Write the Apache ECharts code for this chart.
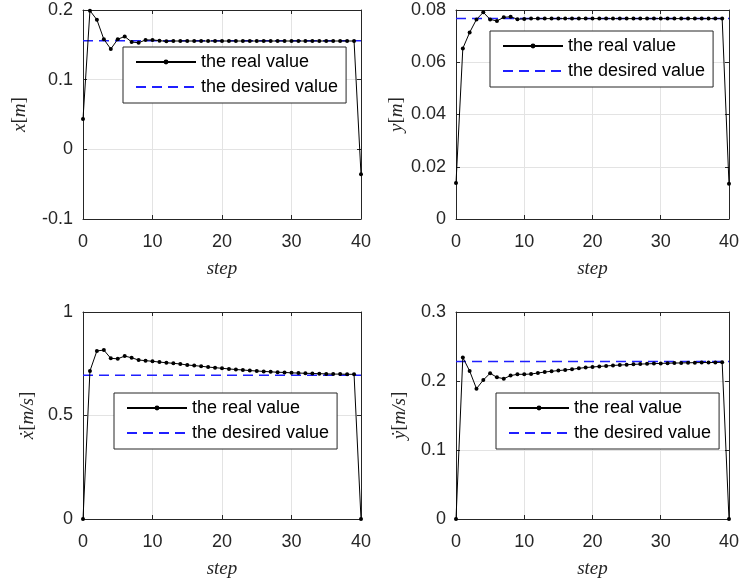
<!DOCTYPE html>
<html><head><meta charset="utf-8">
<script src="https://cdn.jsdelivr.net/npm/echarts@6/dist/echarts.min.js"></script>
<style>html,body{margin:0;padding:0;background:#fff}#c{width:742px;height:584px}</style>
</head><body><div id="c"></div><script>
const steps = [0,1,2,3,4,5,6,7,8,9,10,11,12,13,14,15,16,17,18,19,20,21,22,23,24,25,26,27,28,29,30,31,32,33,34,35,36,37,38,39,40];
const xReal = [0.0437,0.199,0.186,0.158,0.144,0.158,0.162,0.154,0.153,0.157,0.157,0.156,0.155,0.1555,0.1555,0.1555,0.1555,0.1555,0.1555,0.1555,0.1555,0.1555,0.1555,0.1555,0.1555,0.1555,0.1555,0.1555,0.1555,0.1555,0.1555,0.1555,0.1555,0.1555,0.1555,0.1555,0.1555,0.1555,0.1555,0.1555,-0.0357];
const xDesired = 0.1557;
const yReal = [0.0138,0.0653,0.0714,0.0764,0.0791,0.0764,0.0758,0.0772,0.0774,0.0765,0.0766,0.0767,0.0767,0.0767,0.0767,0.0767,0.0767,0.0767,0.0767,0.0767,0.0767,0.0767,0.0767,0.0767,0.0767,0.0767,0.0767,0.0767,0.0767,0.0767,0.0767,0.0767,0.0767,0.0767,0.0767,0.0767,0.0767,0.0767,0.0767,0.0767,0.0135];
const yDesired = 0.0767;
const xdReal = [0,0.715,0.812,0.816,0.776,0.774,0.787,0.779,0.768,0.765,0.762,0.758,0.755,0.752,0.749,0.744,0.741,0.738,0.734,0.731,0.728,0.725,0.722,0.720,0.717,0.715,0.713,0.711,0.709,0.708,0.706,0.705,0.704,0.703,0.702,0.701,0.700,0.700,0.699,0.699,0];
const xdDesired = 0.694;
const ydReal = [0,0.234,0.2145,0.1889,0.2014,0.2112,0.2053,0.2034,0.2078,0.2097,0.2097,0.2101,0.2116,0.2130,0.2141,0.2151,0.2160,0.2170,0.2184,0.2195,0.2203,0.2211,0.2218,0.2225,0.2231,0.2236,0.2241,0.2245,0.2249,0.2252,0.2255,0.2258,0.2260,0.2262,0.2264,0.2266,0.2267,0.2268,0.2269,0.2270,0];
const ydDesired = 0.2282;
const xTicks = {min:0, max:40, interval:10};
const yRanges = [{min:-0.1,max:0.2,interval:0.1},{min:0,max:0.08,interval:0.02},{min:0,max:1,interval:0.5},{min:0,max:0.3,interval:0.1}];
const yNames = ['{i|x}{u|[}{i|m}{u|]}','{i|y}{u|[}{i|m}{u|]}','{i|ẋ}{u|[}{i|m/s}{u|]}','{i|ẏ}{u|[}{i|m/s}{u|]}'];
const realName = 'the real value', desName = 'the desired value';

const TXT = '#262626';
const BLUE = '#1f1fff';
const sans = 'Liberation Sans, Arial, sans-serif';
const serif = 'Liberation Serif, DejaVu Serif, serif';
const grids = [
  {left:83, top:10, width:278, height:209},
  {left:456, top:10, width:277, height:209},
  {left:83, top:312, width:278, height:207},
  {left:456, top:312, width:277, height:207}
];
const yGaps = [54, 50, 46, 47];
const legendPos = [{left:123,top:47},{left:490,top:31},{left:114,top:393},{left:496,top:393}];
const reals = [xReal, yReal, xdReal, ydReal];
const dess = [xDesired, yDesired, xdDesired, ydDesired];

const fmt = v => String(parseFloat(v.toFixed(4)));
const tick = {show:true, inside:true, length:4, lineStyle:{color:TXT}};
const xAxes = grids.map((g,i) => ({
    type:'value', gridIndex:i, min:xTicks.min, max:xTicks.max, interval:xTicks.interval,
    name:'step', nameLocation:'middle', nameGap:40,
    nameTextStyle:{fontFamily:serif, fontStyle:'italic', fontSize:19, color:TXT},
    axisLine:{show:true, onZero:false, lineStyle:{color:TXT, width:1}},
    axisTick:tick,
    axisLabel:{margin:14, fontFamily:sans, fontSize:18, color:TXT, formatter:fmt},
    splitLine:{show:true, lineStyle:{color:'#e3e3e3', width:1}}
  }));
const yAxes = grids.map((g,i) => Object.assign({
    type:'value', gridIndex:i,
    name:yNames[i], nameLocation:'middle', nameGap:yGaps[i], nameRotate:90,
    nameTextStyle:{color:TXT, rich:{
      i:{fontFamily:serif, fontStyle:'italic', fontSize:19, color:TXT},
      u:{fontFamily:serif, fontSize:19, color:TXT}}},
    axisLine:{show:true, onZero:false, lineStyle:{color:TXT, width:1}},
    axisTick:tick,
    axisLabel:{margin:10, fontFamily:sans, fontSize:18, color:TXT, formatter:fmt},
    splitLine:{show:true, lineStyle:{color:'#e3e3e3', width:1}}
  }, yRanges[i]));
grids.forEach((g,i) => {
  xAxes.push({type:'value', gridIndex:i, position:'top', min:xTicks.min, max:xTicks.max, interval:xTicks.interval,
    axisLine:{show:true, onZero:false, lineStyle:{color:TXT}}, axisTick:tick, axisLabel:{show:false}, splitLine:{show:false}});
  yAxes.push(Object.assign({type:'value', gridIndex:i, position:'right',
    axisLine:{show:true, onZero:false, lineStyle:{color:TXT}}, axisTick:tick, axisLabel:{show:false}, splitLine:{show:false}}, yRanges[i]));
});
const option = {
  backgroundColor:'#fff',
  animation:false,
  grid: grids.map(g => Object.assign({show:false}, g)),
  xAxis: xAxes,
  yAxis: yAxes,
  legend: legendPos.map((p,i) => ({
    left:p.left, top:p.top, orient:'vertical',
    data:[realName, {name:desName, itemStyle:{opacity:0}}],
    itemWidth:60, itemHeight:6, itemGap:7, padding:[6,8,7,12],
    backgroundColor:'#fff', borderColor:TXT, borderWidth:1, borderRadius:0,
    selectedMode:false,
    textStyle:{fontFamily:sans, fontSize:18, color:'#000', lineHeight:18}
  })),
  series: []
};
for (let i=0;i<4;i++){
  option.series.push({
    name:desName, type:'line', xAxisIndex:i, yAxisIndex:i,
    data: steps.map(s=>[s, dess[i]]),
    symbol:'none', showSymbol:false,
    lineStyle:{color:BLUE, width:1.5, type:[10,6]}, itemStyle:{color:BLUE},
    z:2
  });
  option.series.push({
    name:realName, type:'line', xAxisIndex:i, yAxisIndex:i,
    data: steps.map((s,k)=>[s, reals[i][k]]),
    symbol:'circle', symbolSize:4, showSymbol:true,
    lineStyle:{color:'#000', width:1}, itemStyle:{color:'#000'},
    z:3
  });
}
const chart = echarts.init(document.getElementById('c'), null, {renderer:'canvas'});
chart.setOption(option);
</script></body></html>
